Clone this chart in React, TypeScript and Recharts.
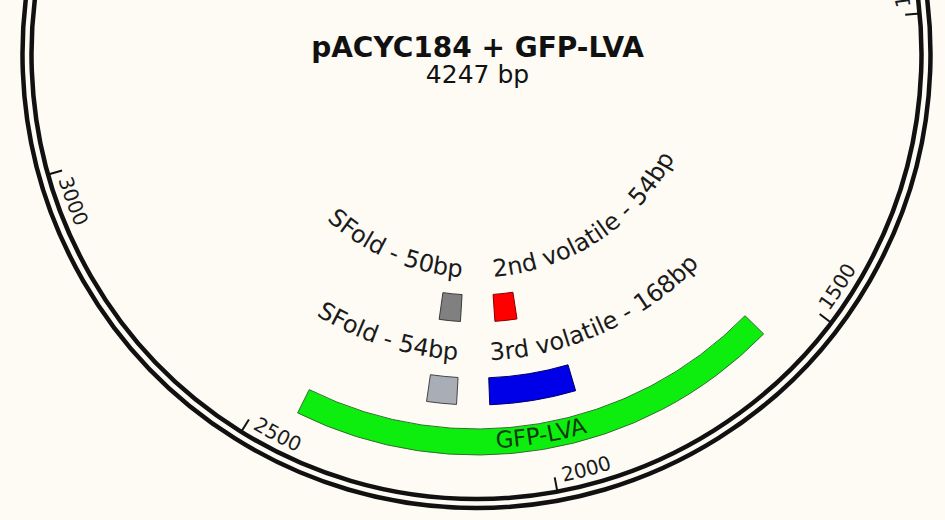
import { PieChart, Pie, Cell } from 'recharts';

// plasmid
const plasmidName = 'pACYC184 + GFP-LVA';
const plasmidLength = 4247;

// scale ticks (bp)
const tickPositions = [500, 1000, 1500, 2000, 2500, 3000, 3500, 4000];

// features (bp)
const featureNames = ['GFP-LVA', 'SFold - 54bp', '3rd volatile - 168bp', 'SFold - 50bp', '2nd volatile - 54bp'];
const featureStarts = [1584, 2162, 1930, 2164, 2021];
const featureEnds = [2436, 2220, 2098, 2218, 2077];
const featureTracks = [0, 1, 1, 2, 2];

// look
const featureColors = ['#0eee0e', '#a9adb5', '#0000e8', '#808080', '#ff0000'];
const featureStrokes = ['#2f6f2f', '#444444', '#00006a', '#3a3a3a', '#8a0000'];
const labelSides = ['middle', 'end', 'start', 'end', 'start'];

const TRACKS = [
  { inner: 375, outer: 401 },
  { inner: 324, outer: 351 },
  { inner: 241, outer: 268 },
];

const W = 945;
const H = 520;
const CX = 476.5;
const CY = 54;
const FONT = '"DejaVu Sans", Verdana, sans-serif';
const RAD = Math.PI / 180;

const polar = (cx: number, cy: number, r: number, a: number) => ({
  x: cx + r * Math.cos(-a * RAD),
  y: cy + r * Math.sin(-a * RAD),
});

// arc running counter-clockwise on screen from angle a to b (b > a)
const arcPath = (cx: number, cy: number, r: number, a: number, b: number) => {
  const p = polar(cx, cy, r, a);
  const q = polar(cx, cy, r, b);
  return `M${p.x},${p.y} A${r},${r} 0 ${b - a > 180 ? 1 : 0} 0 ${q.x},${q.y}`;
};

// pie slices for one track: empty gaps + features
function trackData(t: number) {
  const items = featureNames
    .map((name, i) => ({ name, i, start: featureStarts[i], end: featureEnds[i] }))
    .filter((f) => featureTracks[f.i] === t)
    .sort((a, b) => a.start - b.start);
  const out: any[] = [];
  let pos = 0;
  items.forEach((f) => {
    if (f.start > pos) out.push({ name: 'gap', gap: true, value: f.start - pos });
    out.push({ name: f.name, gap: false, idx: f.i, value: f.end - f.start });
    pos = f.end;
  });
  if (pos < plasmidLength) out.push({ name: 'gap', gap: true, value: plasmidLength - pos });
  return out;
}

const tickBounds = [0, ...tickPositions, plasmidLength];
const tickData = tickBounds.slice(0, -1).map((from, i) => ({
  name: String(from),
  from,
  value: tickBounds[i + 1] - from,
}));

const backboneData = [{ name: plasmidName, value: plasmidLength }];

const renderTick = (props: any) => {
  const { cx, cy, innerRadius, outerRadius, startAngle } = props;
  const from = props.payload?.from ?? props.from;
  if (!from) return null;
  const p1 = polar(cx, cy, innerRadius, startAngle);
  const p2 = polar(cx, cy, outerRadius, startAngle);
  const id = `tick-path-${from}`;
  return (
    <g>
      <line x1={p1.x} y1={p1.y} x2={p2.x} y2={p2.y} stroke="#111" strokeWidth={2} />
      <path id={id} d={arcPath(cx, cy, innerRadius + 6, startAngle + 1, startAngle + 40)} fill="none" stroke="none" />
      <text fontFamily={FONT} fontSize={20} fill="#1a1a1a">
        <textPath href={`#${id}`} startOffset="0">{from}</textPath>
      </text>
    </g>
  );
};

const renderFeatureLabel = (props: any) => {
  const { cx, cy, innerRadius, outerRadius, startAngle, endAngle, midAngle } = props;
  const entry = props.payload ?? props;
  if (!entry || entry.gap) return null;
  const side = labelSides[entry.idx];
  const id = `feature-path-${entry.idx}`;
  let d = '';
  let anchor = 'start';
  let offset = '0%';
  let size = 24;
  let color = '#1a1a1a';
  if (side === 'middle') {
    d = arcPath(cx, cy, outerRadius - 6.5, midAngle - 45, midAngle + 45);
    anchor = 'middle';
    offset = '50%';
    size = 23;
    color = '#0f3a0f';
  } else if (side === 'end') {
    d = arcPath(cx, cy, innerRadius - 17.5, startAngle - 90, startAngle - 0.3);
    anchor = 'end';
    offset = '100%';
  } else {
    d = arcPath(cx, cy, innerRadius - 17.5, endAngle + 0.45, endAngle + 90);
  }
  return (
    <g>
      <path id={id} d={d} fill="none" stroke="none" />
      <text fontFamily={FONT} fontSize={size} fill={color} textAnchor={anchor}>
        <textPath href={`#${id}`} startOffset={offset}>{entry.name}</textPath>
      </text>
    </g>
  );
};

export default function App() {
  return (
    <div style={{ position: 'absolute', left: 0, top: 0, width: W, height: H, background: '#fdfbf4' }}>
      <PieChart width={W} height={H} margin={{ top: 0, right: 0, bottom: 0, left: 0 }}>
        <Pie
          data={backboneData}
          dataKey="value"
          cx={CX}
          cy={CY}
          innerRadius={445}
          outerRadius={454}
          startAngle={90}
          endAngle={-270}
          fill="none"
          stroke="#111"
          strokeWidth={4.5}
          isAnimationActive={false}
        />
        <Pie
          data={tickData}
          dataKey="value"
          cx={CX}
          cy={CY}
          innerRadius={430.5}
          outerRadius={445}
          startAngle={90}
          endAngle={-270}
          fill="none"
          stroke="none"
          label={renderTick}
          labelLine={false}
          isAnimationActive={false}
        />
        {TRACKS.map((tr, t) => {
          const data = trackData(t);
          return (
            <Pie
              key={`track-${t}`}
              data={data}
              dataKey="value"
              cx={CX}
              cy={CY}
              innerRadius={tr.inner}
              outerRadius={tr.outer}
              startAngle={90}
              endAngle={-270}
              label={renderFeatureLabel}
              labelLine={false}
              isAnimationActive={false}
            >
              {data.map((d, i) => (
                <Cell
                  key={`cell-${t}-${i}`}
                  fill={d.gap ? 'none' : featureColors[d.idx]}
                  stroke={d.gap ? 'none' : featureStrokes[d.idx]}
                  strokeWidth={1}
                />
              ))}
            </Pie>
          );
        })}
        <text x={CX + 1} y={56.5} textAnchor="middle" fontFamily={FONT} fontWeight="bold" fontSize={28} fill="#111">
          {plasmidName}
        </text>
        <text x={CX + 1} y={83} textAnchor="middle" fontFamily={FONT} fontSize={25} fill="#111">
          {plasmidLength} bp
        </text>
      </PieChart>
    </div>
  );
}
